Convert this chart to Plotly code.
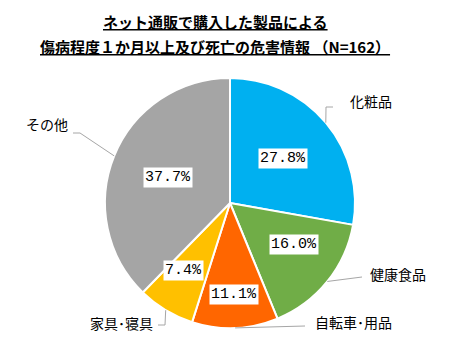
import math
import plotly.graph_objects as go

# Injury/fatality reports for products bought online (N=162)
categories = ["化粧品", "健康食品", "自転車･用品", "家具･寝具", "その他"]
shares = [27.8, 16.0, 11.1, 7.4, 37.7]
colors = ["#00B0F0", "#70AD47", "#FF6600", "#FFC000", "#A5A5A5"]

W, H = 450, 350
CX, CY, R = 230, 203, 125  # pie centre and radius in pixels


def px(x):
    return x / W


def py(y):
    return 1 - y / H


fig = go.Figure(
    go.Pie(
        labels=categories,
        values=shares,
        sort=False,
        direction="clockwise",
        rotation=0,
        textinfo="none",
        hoverinfo="label+percent",
        marker=dict(colors=colors, line=dict(color="white", width=2)),
        domain=dict(x=[px(CX - R), px(CX + R)], y=[py(CY + R), py(CY - R)]),
        showlegend=False,
    )
)

# mid-angle of each slice (clockwise from 12 o'clock)
total = sum(shares)
mids = []
acc = 0.0
for v in shares:
    mids.append((acc + v / 2) / total * 2 * math.pi)
    acc += v


def polar(theta, r):
    return CX + r * math.sin(theta), CY - r * math.cos(theta)


# radial position of the percentage boxes (fraction of radius)
pct_radius = [0.55, 0.66, 0.82, 0.73, 0.535]

annotations = []
for v, th, f in zip(shares, mids, pct_radius):
    x, y = polar(th, f * R)
    annotations.append(dict(
        x=px(x), y=py(y), xref="paper", yref="paper",
        text=f"{v:.1f}%", showarrow=False,
        font=dict(family="Liberation Mono", size=15, color="black"),
        bgcolor="white", borderpad=1,
    ))

# category labels: text anchor (px), alignment, and leader-line elbow points (px)
label_pos = [(348, 101, "left"), (368, 274, "left"), (313, 322, "left"),
             (155, 323, "right"), (70, 124, "right")]
leader_pts = [
    [(326, 107), (333, 107)],
    [(362, 277)],
    [(305, 326)],
    [(165, 325), (158, 325)],
    [(80, 133), (73, 133)],
]

shapes = []
for name, th, (lx, ly, al), pts in zip(categories, mids, label_pos, leader_pts):
    annotations.append(dict(
        x=px(lx), y=py(ly), xref="paper", yref="paper",
        text=name, showarrow=False, xanchor=al, yanchor="middle",
        font=dict(family="Noto Sans CJK JP", size=14, color="black"),
    ))
    ex, ey = polar(th, R)
    path = f"M {px(ex)},{py(ey)}" + "".join(f" L {px(a)},{py(b)}" for a, b in pts)
    shapes.append(dict(type="path", xref="paper", yref="paper", path=path,
                       line=dict(color="#A6A6A6", width=1)))

# two-line underlined title
title_lines = ["ネット通販で購入した製品による", "傷病程度１か月以上及び死亡の危害情報 （N=162）"]
for t, y in zip(title_lines, [22, 46]):
    annotations.append(dict(
        x=px(215), y=py(y), xref="paper", yref="paper",
        text=f"<b><u>{t}</u></b>", showarrow=False, yanchor="middle",
        font=dict(family="Noto Sans CJK JP", size=15, color="black"),
    ))

fig.update_layout(
    width=W, height=H,
    margin=dict(l=0, r=0, t=0, b=0),
    paper_bgcolor="white",
    annotations=annotations,
    shapes=shapes,
)

fig.write_html("out.html")
